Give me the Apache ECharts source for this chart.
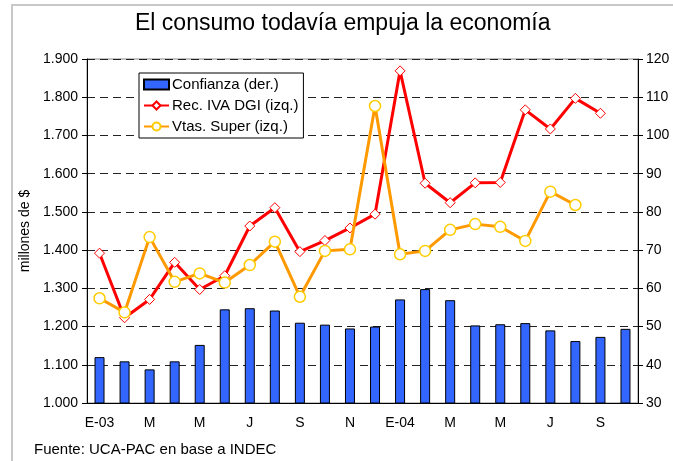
<!DOCTYPE html>
<html>
<head>
<meta charset="utf-8">
<script src="https://cdn.jsdelivr.net/npm/echarts@6/dist/echarts.min.js"></script>
<style>
  html,body{margin:0;padding:0;background:#fff;}
  #main{width:673px;height:461px;}
</style>
</head>
<body>
<div id="main"></div>
<script>
// meses ene-2003 a oct-2004 (se muestra uno de cada dos)
var meses = ['E-03','F','M','A','M','J','J','A','S','O','N','D',
             'E-04','F','M','A','M','J','J','A','S','O'];
// Confianza (eje derecho)
var confianza = [42.0,40.9,38.8,40.9,45.2,54.5,54.8,54.2,51.0,50.5,49.5,50.0,
                 57.1,59.8,56.9,50.3,50.6,50.9,49.0,46.2,47.3,49.4];
// Rec. IVA DGI (eje izquierdo, millones de $)
var recIva = [1392,1223,1271,1368,1297,1333,1463,1511,1396,1425,1458,1494,
              1869,1575,1524,1576,1577,1767,1717,1797,1758];
// Vtas. Super (eje izquierdo, millones de $)
var vtasSuper = [1274,1237,1434,1317,1339,1315,1361,1422,1278,1398,1402,1777,
                 1389,1398,1453,1468,1461,1424,1553,1518];

var fuente = 'Liberation Sans, Arial, sans-serif';
var chart = echarts.init(document.getElementById('main'));

var option = {
  animation: false,
  backgroundColor: '#fff',
  textStyle: { fontFamily: fuente },
  title: {
    text: 'El consumo todavía empuja la economía',
    left: 130, top: 7,
    textStyle: { fontSize: 23, fontWeight: 'normal', color: '#000', fontFamily: fuente }
  },
  graphic: [
    { type: 'polyline', silent: true, z: -1,
      shape: { points: [[12, 470], [12, 5], [680, 5]] },
      style: { fill: null, stroke: '#c8c8c8', lineWidth: 2 } },
    { type: 'text', left: 34, top: 442,
      style: { text: 'Fuente: UCA-PAC en base a INDEC', fontSize: 15, fill: '#000', fontFamily: fuente } }
  ],
  legend: {
    orient: 'vertical',
    left: 139, top: 73,
    backgroundColor: '#fff',
    borderColor: '#000', borderWidth: 1,
    padding: [4, 5, 4, 4],
    itemGap: 6,
    itemWidth: 25, itemHeight: 10,
    textStyle: { fontSize: 15, color: '#000', fontFamily: fuente, padding: [0, 0, 0, -2] },
    data: [
      { name: 'Confianza (der.)', icon: 'rect' },
      { name: 'Rec. IVA DGI (izq.)' },
      { name: 'Vtas. Super (izq.)' }
    ]
  },
  grid: {
    left: 87, right: 35, top: 59, bottom: 58,
    show: true, borderColor: '#888', borderWidth: 1
  },
  xAxis: {
    type: 'category',
    data: meses,
    axisLine: { lineStyle: { color: '#000', width: 1 } },
    axisTick: { interval: 0, length: 5, lineStyle: { color: '#000' } },
    axisLabel: { interval: 1, fontSize: 14, color: '#000', margin: 13 }
  },
  yAxis: [
    {
      type: 'value',
      min: 1000, max: 1900, interval: 100,
      name: 'millones de $',
      nameLocation: 'middle',
      nameGap: 55,
      nameTextStyle: { fontSize: 14, color: '#000' },
      axisLine: { show: true, lineStyle: { color: '#000' } },
      axisTick: { show: true, length: 5, lineStyle: { color: '#000' } },
      axisLabel: {
        fontSize: 14, color: '#000', margin: 9,
        formatter: function (v) { return (v / 1000).toFixed(3); }
      },
      splitLine: { show: true, lineStyle: { color: '#222', type: [8, 5], width: 1 } }
    },
    {
      type: 'value',
      min: 30, max: 120, interval: 10,
      position: 'right',
      axisLine: { show: true, lineStyle: { color: '#000' } },
      axisTick: { show: true, length: 5, lineStyle: { color: '#000' } },
      axisLabel: { fontSize: 14, color: '#000', margin: 8 },
      splitLine: { show: false }
    }
  ],
  series: [
    {
      name: 'Confianza (der.)',
      type: 'bar',
      yAxisIndex: 1,
      data: confianza,
      barWidth: 10,
      itemStyle: { color: '#3366ff', borderColor: '#000', borderWidth: 1 }
    },
    {
      name: 'Rec. IVA DGI (izq.)',
      type: 'line',
      yAxisIndex: 0,
      data: recIva,
      symbol: 'diamond',
      symbolSize: 10,
      lineStyle: { color: '#ff0000', width: 3 },
      itemStyle: { color: '#fff', borderColor: '#ff0000', borderWidth: 1 },
      z: 3
    },
    {
      name: 'Vtas. Super (izq.)',
      type: 'line',
      yAxisIndex: 0,
      data: vtasSuper,
      symbol: 'circle',
      symbolSize: 11,
      lineStyle: { color: '#ff9900', width: 3 },
      itemStyle: { color: '#fff', borderColor: '#ffcc00', borderWidth: 1.5 },
      z: 4
    }
  ]
};
chart.setOption(option);
</script>
</body>
</html>
